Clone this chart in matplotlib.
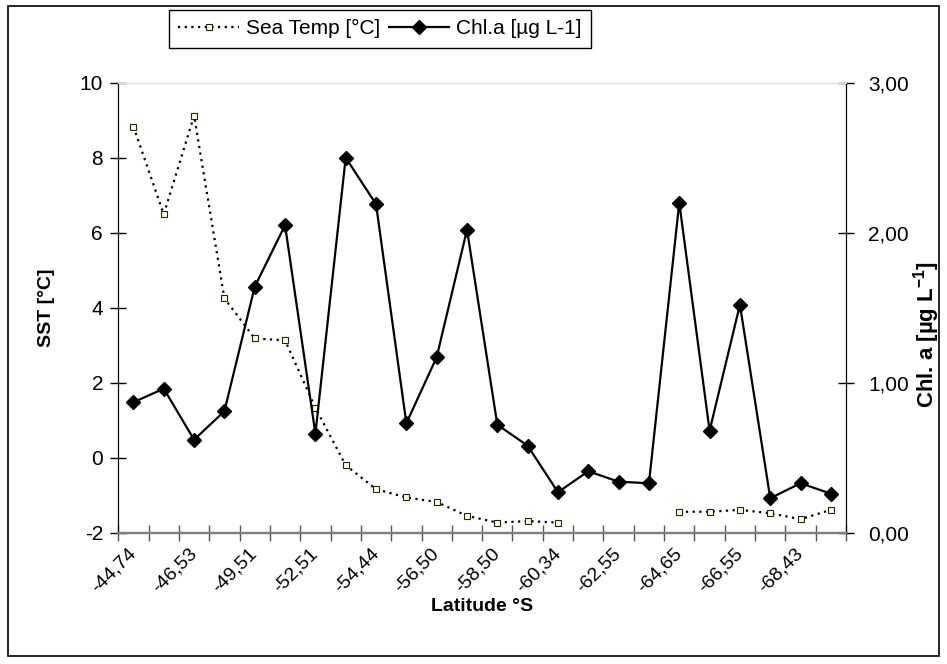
import matplotlib.pyplot as plt
import numpy as np
from matplotlib.patches import Rectangle
from matplotlib.transforms import ScaledTranslation

plt.rcParams['font.family'] = ['Liberation Sans', 'DejaVu Sans']
plt.rcParams['mathtext.fontset'] = 'custom'
plt.rcParams['mathtext.rm'] = 'Liberation Sans'
plt.rcParams['mathtext.bf'] = 'Liberation Sans:bold'

# Data (24 stations, every other latitude labelled)
lat_labels = ['-44,74', '-46,53', '-49,51', '-52,51', '-54,44', '-56,50',
              '-58,50', '-60,34', '-62,55', '-64,65', '-66,55', '-68,43']
sst = [8.83, 6.49, 9.12, 4.25, 3.18, 3.13, 1.33, -0.20, -0.84, -1.06, -1.18, -1.55,
       -1.73, -1.69, -1.73, np.nan, np.nan, np.nan, -1.44, -1.44, -1.39, -1.48, -1.64, -1.39]
chl = [0.87, 0.96, 0.62, 0.81, 1.64, 2.05, 0.66, 2.50, 2.19, 0.73, 1.17, 2.02,
       0.72, 0.58, 0.27, 0.41, 0.34, 0.33, 2.20, 0.68, 1.52, 0.23, 0.33, 0.26]
sst_ticks = [-2, 0, 2, 4, 6, 8, 10]
chl_ticks = [0, 1, 2, 3]
chl_ticklabels = ['0,00', '1,00', '2,00', '3,00']

fs = 15
x = np.arange(len(chl))

fig = plt.figure(figsize=(9.47, 6.64), dpi=100)
ax = fig.add_axes([0.1249, 0.1977, 0.7685, 0.6778])
ax2 = ax.twinx()

# outer chart border
fig.patches.append(Rectangle((8 / 947, 8 / 664), 931 / 947, 650 / 664,
                             transform=fig.transFigure, fill=False,
                             edgecolor='black', linewidth=1.2))

l1, = ax.plot(x, sst, linestyle=(0, (1, 2)), color='black', linewidth=1.6,
              marker='s', markersize=5, markerfacecolor='#ffffcc',
              markeredgecolor='#222222', markeredgewidth=0.8,
              label='Sea Temp [°C]')
l2, = ax2.plot(x, chl, linestyle='-', color='black', linewidth=1.6,
               marker='D', markersize=7, markerfacecolor='black',
               markeredgecolor='black', label='Chl.a [µg L-1]')

ax.set_xlim(-0.5, len(chl) - 0.5)
ax.set_ylim(-2, 10)
ax2.set_ylim(0, 3)

ax.set_yticks(sst_ticks)
ax.set_yticklabels([str(v) for v in sst_ticks], fontsize=fs)
ax2.set_yticks(chl_ticks)
ax2.set_yticklabels(chl_ticklabels, fontsize=fs)

# category boundaries carry the tick marks, labels sit on every other category
ax.set_xticks(np.arange(-0.5, len(chl), 1.0))
ax.set_xticklabels([])
ax.set_xticks(x[::2], minor=True)
ax.set_xticklabels(lat_labels, minor=True, rotation=45, ha='right',
                   va='center', rotation_mode='anchor', fontsize=14)
shift = ScaledTranslation(-4 / 100, 0, fig.dpi_scale_trans)
for lab in ax.get_xticklabels(minor=True):
    lab.set_transform(lab.get_transform() + shift)
ax.tick_params(axis='x', which='minor', length=0, pad=13)
ax.tick_params(axis='x', which='major', direction='inout', length=12,
               color='#555555', width=1)
ax.tick_params(axis='y', direction='inout', length=12, width=1, pad=5)
ax2.tick_params(axis='y', direction='inout', length=12, width=1, pad=10)

for a in (ax, ax2):
    a.spines['top'].set_color('#dddddd')
    a.spines['bottom'].set_color('#808080')
    a.spines['bottom'].set_linewidth(1.6)
    a.spines['left'].set_color('black')
    a.spines['right'].set_color('black')

ax.set_ylabel('SST [°C]', fontsize=14, fontweight='bold')
ax.yaxis.set_label_coords(-0.087, 0.5)
ax2.set_ylabel(r'Chl. a [µg L$^{\mathbf{-1}}$]', fontsize=16, fontweight='bold')
ax2.yaxis.set_label_coords(1.09, 0.44)
ax.set_xlabel('Latitude °S', fontsize=14, fontweight='bold')
ax.xaxis.set_label_coords(0.5, -0.145)

fig.legend(handles=[l1, l2], loc='upper left', bbox_to_anchor=(169 / 947, 1 - 10 / 664),
           bbox_transform=fig.transFigure, ncol=2, fontsize=fs, frameon=True,
           fancybox=False, edgecolor='black', framealpha=1, handlelength=2.9,
           borderaxespad=0, columnspacing=0.4, handletextpad=0.35, borderpad=0.45)

fig.savefig('out.png', dpi=100)
